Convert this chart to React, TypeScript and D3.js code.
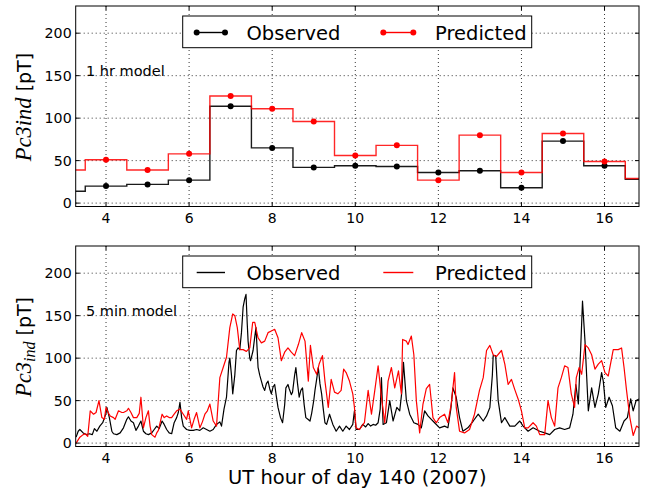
import React from "react";
import * as d3 from "d3";

// ---------- Data ----------
const hourlyHours = [3, 4, 5, 6, 7, 8, 9, 10, 11, 12, 13, 14, 15, 16, 17];
const hourlyObserved = [14, 20, 22, 27, 114, 65, 42, 44, 43, 36, 38, 18, 73, 44, 28];
const hourlyPredicted = [39, 51, 39, 58, 126, 111, 96, 56, 68, 27, 80, 36, 82, 49, 29];

const obsHours = [
  3.28, 3.33, 3.37, 3.45, 3.52, 3.6, 3.67, 3.72, 3.78, 3.85, 3.92, 4.0, 4.02, 4.08, 4.14, 4.18, 4.26, 4.34, 4.42, 4.5,
  4.54, 4.6, 4.66, 4.72, 4.78, 4.84, 4.9, 4.96, 5.02, 5.1, 5.16, 5.22, 5.28, 5.35, 5.4, 5.46, 5.52, 5.58, 5.64, 5.7,
  5.74, 5.78, 5.82, 5.86, 5.94, 6.02, 6.1, 6.18, 6.26, 6.34, 6.42, 6.5, 6.58, 6.66, 6.74, 6.78, 6.84, 6.9, 6.96, 6.98,
  7.02, 7.05, 7.1, 7.14, 7.18, 7.22, 7.26, 7.3, 7.34, 7.37, 7.4, 7.42, 7.46, 7.48, 7.54, 7.58, 7.61, 7.66, 7.7, 7.74,
  7.78, 7.82, 7.86, 7.9, 7.94, 7.98, 8.02, 8.06, 8.1, 8.14, 8.2, 8.25, 8.3, 8.33, 8.38, 8.41, 8.46, 8.49, 8.54, 8.57,
  8.61, 8.65, 8.69, 8.73, 8.77, 8.81, 8.86, 8.91, 8.95, 9.0, 9.03, 9.07, 9.11, 9.15, 9.19, 9.23, 9.27, 9.31, 9.38, 9.46,
  9.54, 9.62, 9.7, 9.78, 9.86, 9.94, 9.98, 10.02, 10.1, 10.18, 10.25, 10.31, 10.37, 10.43, 10.49, 10.55, 10.6, 10.63, 10.67, 10.75,
  10.83, 10.91, 11.0, 11.07, 11.12, 11.16, 11.23, 11.31, 11.41, 11.51, 11.59, 11.67, 11.75, 11.83, 11.91, 12.03, 12.15, 12.23, 12.3, 12.35,
  12.43, 12.51, 12.59, 12.71, 12.84, 12.96, 13.08, 13.16, 13.24, 13.3, 13.32, 13.38, 13.44, 13.52, 13.6, 13.72, 13.84, 13.96, 14.04, 14.16,
  14.28, 14.44, 14.56, 14.68, 14.8, 14.92, 15.04, 15.16, 15.24, 15.31, 15.37, 15.43, 15.47, 15.53, 15.61, 15.69, 15.77, 15.85, 15.93, 15.97,
  16.03, 16.11, 16.19, 16.27, 16.37, 16.47, 16.55, 16.63, 16.69, 16.76, 16.83,
];
const obsValues = [
  7, 14, 16, 12, 10, 11, 10, 17, 14, 20, 24, 35, 42, 30, 14, 11, 10, 12, 18, 28,
  31, 26, 24, 15, 20, 26, 14, 11, 10, 12, 16, 20, 17, 26, 22, 16, 12, 11, 24, 30,
  36, 48, 30, 20, 16, 15, 15, 16, 15, 18, 16, 14, 16, 22, 25, 20, 40, 54, 95, 100,
  80, 58, 80, 109, 112, 110, 130, 160, 170, 175, 140, 120, 100, 97, 109, 125, 136, 89, 80, 73,
  66, 62, 70, 73, 64, 58, 66, 69, 55, 42, 30, 24, 45, 65, 69, 64, 57, 60, 80, 89,
  70, 54, 62, 65, 45, 30, 28, 26, 35, 50, 62, 75, 89, 70, 58, 40, 24, 22, 34, 22,
  14, 20, 14, 20, 16, 22, 38, 16, 16, 22, 19, 23, 20, 22, 21, 24, 40, 77, 22, 24,
  50, 26, 42, 38, 60, 95, 50, 34, 24, 22, 18, 38, 32, 28, 24, 18, 20, 18, 40, 65,
  54, 30, 14, 18, 26, 34, 26, 32, 42, 80, 103, 103, 50, 24, 30, 20, 20, 26, 20, 14,
  18, 14, 12, 10, 16, 18, 16, 18, 34, 69, 46, 116, 167, 120, 38, 65, 42, 58, 83, 73,
  42, 54, 44, 18, 14, 26, 30, 52, 38, 50, 52,
];

const predHours = [
  3.28, 3.37, 3.45, 3.5, 3.56, 3.62, 3.7, 3.76, 3.83, 3.9, 3.96, 4.0, 4.06, 4.1, 4.18, 4.22, 4.3, 4.38, 4.42, 4.5,
  4.54, 4.6, 4.66, 4.74, 4.8, 4.84, 4.9, 4.96, 5.02, 5.06, 5.1, 5.18, 5.22, 5.26, 5.35, 5.4, 5.46, 5.52, 5.58, 5.64,
  5.7, 5.78, 5.86, 5.94, 5.98, 6.06, 6.12, 6.18, 6.26, 6.32, 6.38, 6.44, 6.5, 6.58, 6.66, 6.74, 6.82, 6.9, 6.98, 7.05,
  7.1, 7.16, 7.22, 7.3, 7.38, 7.46, 7.53, 7.58, 7.66, 7.74, 7.82, 7.9, 7.98, 8.06, 8.14, 8.22, 8.3, 8.38, 8.46, 8.54,
  8.63, 8.71, 8.79, 8.87, 8.92, 8.99, 9.07, 9.13, 9.21, 9.27, 9.35, 9.42, 9.5, 9.58, 9.66, 9.72, 9.78, 9.86, 9.94, 9.98,
  10.02, 10.1, 10.22, 10.31, 10.39, 10.47, 10.55, 10.63, 10.71, 10.79, 10.87, 10.95, 11.04, 11.11, 11.14, 11.23, 11.27, 11.35, 11.41, 11.47,
  11.55, 11.63, 11.71, 11.79, 11.87, 11.95, 12.03, 12.15, 12.23, 12.31, 12.39, 12.43, 12.51, 12.63, 12.75, 12.87, 12.99, 13.08, 13.16, 13.24,
  13.32, 13.4, 13.52, 13.6, 13.68, 13.76, 13.84, 13.92, 14.0, 14.08, 14.16, 14.28, 14.36, 14.44, 14.56, 14.64, 14.72, 14.8, 14.88, 14.96,
  15.04, 15.12, 15.2, 15.28, 15.32, 15.39, 15.45, 15.53, 15.61, 15.69, 15.77, 15.85, 15.93, 16.01, 16.09, 16.21, 16.33, 16.41, 16.47, 16.53,
  16.61, 16.69, 16.77, 16.83,
];
const predValues = [
  0, 7, 10, 11, 8, 38, 34, 36, 50, 30, 28, 42, 35, 32, 30, 28, 38, 36, 36, 38,
  41, 36, 30, 30, 35, 54, 18, 30, 38, 20, 10, 7, 12, 15, 34, 30, 32, 30, 30, 34,
  38, 40, 34, 28, 38, 18, 28, 36, 18, 25, 34, 38, 46, 26, 20, 77, 89, 101, 136, 152,
  150, 136, 110, 110, 108, 112, 142, 142, 124, 118, 120, 130, 132, 134, 124, 97, 107, 112, 107, 103,
  116, 130, 120, 73, 115, 89, 81, 93, 103, 73, 42, 75, 60, 58, 62, 87, 83, 73, 58, 42,
  18, 16, 24, 62, 34, 62, 91, 54, 24, 73, 89, 65, 85, 58, 122, 120, 116, 126, 104, 50,
  12, 46, 64, 69, 30, 24, 30, 34, 24, 46, 83, 42, 14, 12, 16, 34, 62, 77, 109, 115,
  104, 102, 109, 93, 69, 75, 63, 52, 38, 18, 18, 24, 20, 10, 10, 50, 30, 20, 65, 77,
  91, 89, 58, 42, 77, 89, 81, 116, 112, 104, 87, 93, 97, 83, 79, 110, 110, 112, 89, 62,
  30, 9, 20, 18,
];

const xTicks = [4, 6, 8, 10, 12, 14, 16];
const yTicks = [0, 50, 100, 150, 200];
const seriesNames = ["Observed", "Predicted"];

// ---------- Layout ----------
const W = 645;
const H = 489;
const LEFT = 75.7;
const RIGHT = 639;
const PH = 200.5;
const TOPS = [6, 246];
const FONT = "DejaVu Sans, sans-serif";

const x = d3.scaleLinear().domain([3.27, 16.83]).range([LEFT, RIGHT]);

function Panel({ idx }: { idx: number }) {
  const top = TOPS[idx];
  const bottom = top + PH;
  const y = d3.scaleLinear().domain([-4, 232]).range([bottom, top]);
  const clipId = `clip${idx}`;

  let lines: React.ReactNode;
  if (idx === 0) {
    const step = d3
      .line<number>()
      .x((_, i) => x(hourlyHours[i]))
      .y((d) => y(d))
      .curve(d3.curveStep);
    lines = (
      <g clipPath={`url(#${clipId})`}>
        <path d={step(hourlyObserved) || ""} fill="none" stroke="#1a1a1a" strokeWidth={1.4} />
        {hourlyObserved.map((v, i) => (
          <circle key={"o" + i} cx={x(hourlyHours[i])} cy={y(v)} r={3} fill="#000" />
        ))}
        <path d={step(hourlyPredicted) || ""} fill="none" stroke="#ff0000" strokeOpacity={0.85} strokeWidth={1.4} />
        {hourlyPredicted.map((v, i) => (
          <circle key={"p" + i} cx={x(hourlyHours[i])} cy={y(v)} r={3} fill="#ff0000" />
        ))}
      </g>
    );
  } else {
    const lo = d3
      .line<number>()
      .x((_, i) => x(obsHours[i]))
      .y((d) => y(d));
    const lp = d3
      .line<number>()
      .x((_, i) => x(predHours[i]))
      .y((d) => y(d));
    lines = (
      <g clipPath={`url(#${clipId})`}>
        <path d={lo(obsValues) || ""} fill="none" stroke="#000" strokeWidth={1.2} strokeLinejoin="round" />
        <path d={lp(predValues) || ""} fill="none" stroke="#ff0000" strokeWidth={1.2} strokeLinejoin="round" />
      </g>
    );
  }

  const legY = top + 26.5;
  return (
    <g>
      <defs>
        <clipPath id={clipId}>
          <rect x={LEFT} y={top} width={RIGHT - LEFT} height={PH} />
        </clipPath>
      </defs>
      {/* grid */}
      {xTicks.map((t) => (
        <line key={"gx" + t} x1={x(t)} x2={x(t)} y1={top} y2={bottom} stroke="#000" strokeWidth={0.8} strokeDasharray="1,3" />
      ))}
      {yTicks.map((t) => (
        <line key={"gy" + t} x1={LEFT} x2={RIGHT} y1={y(t)} y2={y(t)} stroke="#000" strokeWidth={0.8} strokeDasharray="1,3" />
      ))}
      {lines}
      {/* ticks inward */}
      {xTicks.map((t) => (
        <g key={"tx" + t}>
          <line x1={x(t)} x2={x(t)} y1={bottom} y2={bottom - 4} stroke="#000" />
          <line x1={x(t)} x2={x(t)} y1={top} y2={top + 4} stroke="#000" />
          <text x={x(t)} y={bottom + 16.5} textAnchor="middle" fontFamily={FONT} fontSize={14} fill="#000">
            {t}
          </text>
        </g>
      ))}
      {yTicks.map((t) => (
        <g key={"ty" + t}>
          <line x1={LEFT} x2={LEFT + 4} y1={y(t)} y2={y(t)} stroke="#000" />
          <line x1={RIGHT} x2={RIGHT - 4} y1={y(t)} y2={y(t)} stroke="#000" />
          <text x={LEFT - 4} y={y(t) + 5.2} textAnchor="end" fontFamily={FONT} fontSize={14.2} fill="#000">
            {t}
          </text>
        </g>
      ))}
      <rect x={LEFT} y={top} width={RIGHT - LEFT} height={PH} fill="none" stroke="#000" strokeWidth={1} />
      {/* annotation */}
      <text x={86} y={top + 70} fontFamily={FONT} fontSize={14.5} fill="#000">
        {idx === 0 ? "1 hr model" : "5 min model"}
      </text>
      {/* legend */}
      <rect x={182.7} y={top + 10} width={349} height={31.7} fill="#fff" stroke="#000" strokeWidth={1} />
      <line x1={196.7} x2={225} y1={legY} y2={legY} stroke="#000" strokeWidth={1.4} />
      <line x1={383.3} x2={413.3} y1={legY} y2={legY} stroke="#ff0000" strokeWidth={1.4} />
      {idx === 0 && (
        <>
          <circle cx={196.7} cy={legY} r={3} fill="#000" />
          <circle cx={225} cy={legY} r={3} fill="#000" />
          <circle cx={383.3} cy={legY} r={3} fill="#ff0000" />
          <circle cx={413.3} cy={legY} r={3} fill="#ff0000" />
        </>
      )}
      <text x={246.5} y={legY + 7.1} fontFamily={FONT} fontSize={19.5} fill="#000">
        {seriesNames[0]}
      </text>
      <text x={435} y={legY + 7.1} fontFamily={FONT} fontSize={19.5} fill="#000">
        {seriesNames[1]}
      </text>
      {/* y label */}
      <text
        transform={`translate(31,${top + 101}) rotate(-90)`}
        textAnchor="middle"
        fill="#000"
        fontSize={19}
        fontFamily={FONT}
      >
        <tspan fontFamily="Liberation Serif, serif" fontStyle="italic" fontSize={22.5}>
          Pc3
        </tspan>
        {idx === 0 ? (
          <tspan fontFamily="Liberation Serif, serif" fontStyle="italic" fontSize={22.5}>
            ind
          </tspan>
        ) : (
          <tspan fontFamily="Liberation Serif, serif" fontStyle="italic" fontSize={16} dy={4}>
            ind
          </tspan>
        )}
        <tspan dy={idx === 0 ? 0 : -4}> [pT]</tspan>
      </text>
    </g>
  );
}

export default function App() {
  return (
    <svg
      width={W}
      height={H}
      viewBox={`0 0 ${W} ${H}`}
      style={{ position: "absolute", left: 0, top: 0, background: "#fff" }}
    >
      <rect x={0} y={0} width={W} height={H} fill="#fff" />
      <Panel idx={0} />
      <Panel idx={1} />
      <text x={(LEFT + RIGHT) / 2} y={483.5} textAnchor="middle" fontFamily={FONT} fontSize={19.5} fill="#000">
        UT hour of day 140 (2007)
      </text>
    </svg>
  );
}
